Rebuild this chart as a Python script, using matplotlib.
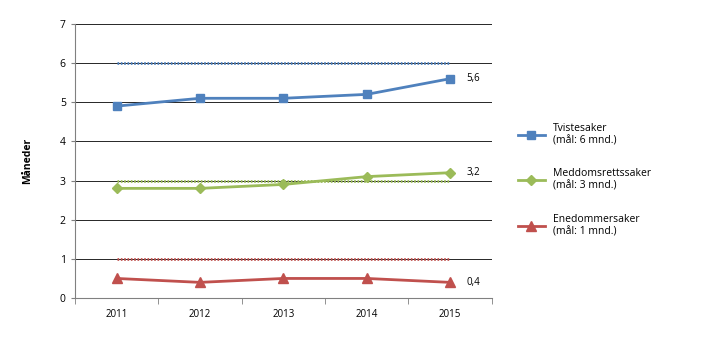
import numpy as np
import matplotlib.pyplot as plt

plt.rcParams['font.family'] = ['Open Sans', 'DejaVu Sans']

years = ['2011', '2012', '2013', '2014', '2015']
tviste = [4.9, 5.1, 5.1, 5.2, 5.6]
meddom = [2.8, 2.8, 2.9, 3.1, 3.2]
enedom = [0.5, 0.4, 0.5, 0.5, 0.4]
targets = [6, 3, 1]
labels = ['Tvistesaker\n(mål: 6 mnd.)', 'Meddomsrettssaker\n(mål: 3 mnd.)',
          'Enedommersaker\n(mål: 1 mnd.)']
end_labels = ['5,6', '3,2', '0,4']

colors = ['#4F81BD', '#9BBB59', '#C0504D']
markers = ['s', 'D', '^']
msizes = [6, 5, 7]

fig = plt.figure(figsize=(7.2, 3.41), dpi=100)
ax = fig.add_axes([0.104, 0.126, 0.579, 0.804])

x = np.arange(len(years))
for yv in range(1, 8):
    ax.axhline(yv, color='#262626', lw=0.7, zorder=1)

series = [tviste, meddom, enedom]
for s, t, c, m, ms, lab, el in zip(series, targets, colors, markers, msizes, labels, end_labels):
    ax.plot(x, [t] * len(x), color=c, lw=2, ls=(0, (0.6, 0.6)), zorder=2)
    ax.plot(x, s, color=c, lw=2, marker=m, ms=ms, label=lab, zorder=3)
    ax.text(x[-1] + 0.2, s[-1], el, fontsize=7, va='center', ha='left')

ax.set_xlim(-0.5, 4.5)
ax.set_ylim(0, 7)
ax.set_xticks(x)
ax.set_xticklabels(years, fontsize=7)
ax.set_xticks(np.arange(-0.5, 5, 1), minor=True)
ax.tick_params(axis='x', which='major', length=0, pad=8)
ax.tick_params(axis='x', which='minor', length=4, color='#808080')
ax.set_yticks(range(0, 8))
ax.tick_params(axis='y', length=3, color='#808080', labelsize=7.5)
ax.set_ylabel('Måneder', fontsize=7.5, fontweight='bold', labelpad=19)

for side in ['top', 'right']:
    ax.spines[side].set_visible(False)
for side in ['left', 'bottom']:
    ax.spines[side].set_color('#808080')

leg = ax.legend(loc='center left', bbox_to_anchor=(1.04, 0.43), frameon=False,
                fontsize=7.5, handlelength=2.6, labelspacing=2.1)

fig.savefig('out.png', dpi=100)
